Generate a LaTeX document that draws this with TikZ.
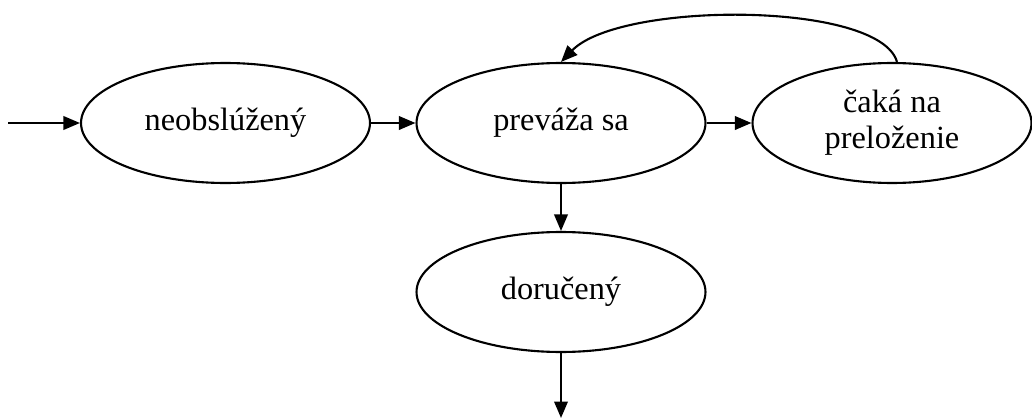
\documentclass[tikz,border=0pt]{standalone}
\usepackage{fontspec}
\setmainfont{Liberation Serif}
\usetikzlibrary{arrows.meta, shapes.geometric}
\tikzset{
    state/.style={ellipse,draw,line width=1.2pt,minimum width=5.78cm,minimum height=2.4cm,
        inner sep=0pt,align=center,font=\fontsize{18.4}{20.5}\selectfont},
    flow/.style={
        every edge/.style={draw,line width=1.2pt,-{Triangle[length=0.33cm,width=0.27cm]}},
    }
}
\begin{document}
\begin{tikzpicture}[x=0.02cm,y=-0.02cm,flow]
\useasboundingbox (0,0) rectangle (1032,419);
\node[state] (neob) at (225.5,123) {neobslúžený};
\node[state] (prev) at (561,123) {preváža sa};
\node[state, minimum width=5.58cm] (caka) at (892,123) {čaká na\\preloženie};
\node[state] (doru) at (561,292) {doručený};
\coordinate (start) at (8,123);
\coordinate (exit) at (561,418);
\path
    (start) edge (neob)
    (neob) edge (prev)
    (prev) edge (caka)
    (prev) edge (doru)
    (doru) edge (exit)
    (caka.north) ++(5,0) edge[to path={.. controls (880,1) and (620,1) .. (\tikztotarget)}] (prev.north)
;
\end{tikzpicture}
\end{document}
